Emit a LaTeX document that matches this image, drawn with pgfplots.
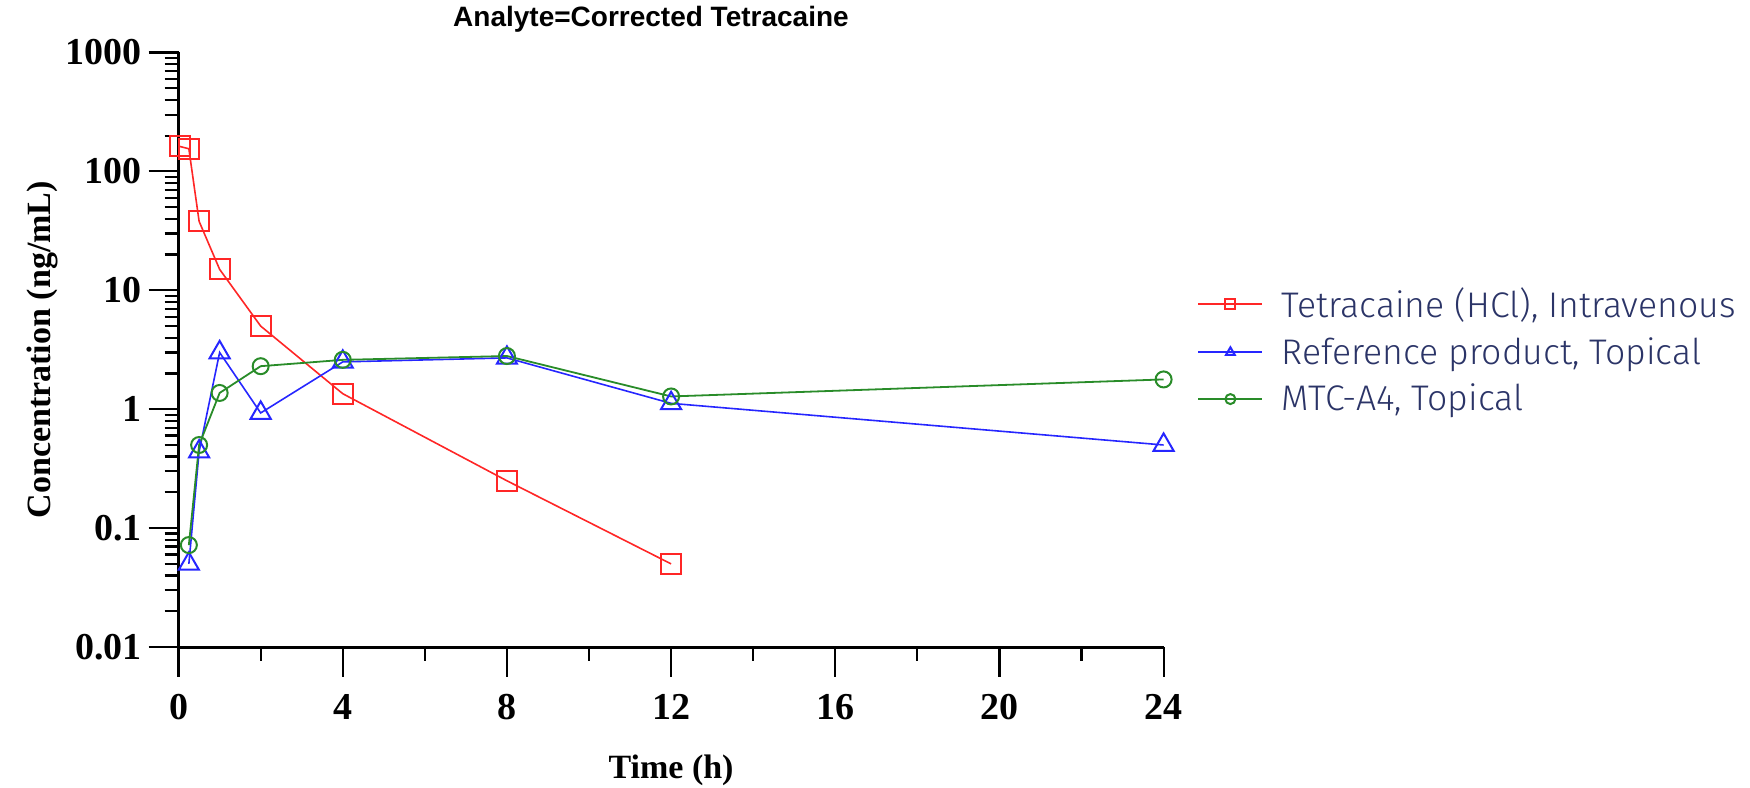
\documentclass[border=0pt]{standalone}
\usepackage{pgfplots}
\pgfplotsset{compat=1.18}
\usepackage{fontspec}
\setmainfont{Liberation Serif}
\newfontfamily\titlefont{Liberation Sans}
\newfontfamily\legfont{Fira Sans Light}
\definecolor{cred}{rgb}{1,0.15,0.15}
\definecolor{cblue}{rgb}{0.15,0.15,1}
\definecolor{cgreen}{rgb}{0.16,0.55,0.16}
\definecolor{cnavy}{RGB}{43,52,103}
\begin{document}
\begin{tikzpicture}
\begin{axis}[
  at={(0,0)}, anchor=south west,
  scale only axis, width=492.5pt, height=297.25pt,
  xmin=0, xmax=24, ymode=log, ymin=0.01, ymax=1000,
  axis lines*=left, axis line style={line width=1.5pt},
  clip=false,
  xtick={0,4,8,12,16,20,24},
  minor xtick={2,6,10,14,18,22},
  ytick={0.01,0.1,1,10,100,1000},
  yticklabels={0.01,0.1,1,10,100,1000},
  xticklabels={0,4,8,12,16,20,24},
  tick align=outside,
  major tick length=15pt, minor tick length=7pt,
  every tick/.style={black, line width=1.1pt},
  tick label style={font=\bfseries\fontsize{19}{19}\selectfont},
  xticklabel style={yshift=-5pt},
  xlabel={Time (h)}, ylabel={Concentration (ng/mL)},
  every axis x label/.style={at={([yshift=-61.5pt]axis description cs:0.5,0)}, anchor=center, font=\bfseries\fontsize{17}{17}\selectfont},
  every axis y label/.style={at={([xshift=-68.3pt]axis description cs:0,0.5)}, anchor=center, rotate=90, font=\bfseries\fontsize{17}{17}\selectfont},
  title={Analyte=Corrected Tetracaine},
  title style={at={([yshift=10.75pt]axis description cs:0.4796,1)}, anchor=center, font=\titlefont\bfseries\fontsize{14}{14}\selectfont},
  legend cell align=left,
  legend style={draw=none, fill=none, at={(1.034,0.612)}, anchor=north west,
    font=\legfont\fontsize{17.8}{17.8}\selectfont, text=cnavy,
    row sep=4.5pt, inner sep=0pt},
  legend image code/.code={\draw[mark repeat=2,mark phase=2, mark size=2.5pt] plot coordinates {(0pt,0pt)(16pt,0pt)(32pt,0pt)}; \path (39.3pt,0pt);},
]
\addplot[cred, line width=0.8pt, mark=square, mark size=5pt, mark options={line width=1pt}] coordinates {
 (0.033,162) (0.25,155) (0.5,38) (1,15) (2,5.0) (4,1.35) (8,0.25) (12,0.05)};
\addlegendentry{Tetracaine (HCl), Intravenous}
\addplot[cblue, line width=0.8pt, mark=triangle, mark size=5.8pt, mark options={line width=1pt}] coordinates {
 (0.25,0.05) (0.5,0.44) (1,3.0) (2,0.93) (4,2.5) (8,2.7) (12,1.12) (24,0.5)};
\addlegendentry{Reference product, Topical}
\addplot[cgreen, line width=0.9pt, mark=o, mark size=4pt, mark options={line width=1pt}] coordinates {
 (0.25,0.072) (0.5,0.5) (1,1.37) (2,2.3) (4,2.6) (8,2.8) (12,1.28) (24,1.78)};
\addlegendentry{MTC-A4, Topical}
\end{axis}
\pgfresetboundingbox
\path[use as bounding box] (-89.3pt,-70pt) rectangle (785.7pt,323.5pt);
\end{tikzpicture}
\end{document}
